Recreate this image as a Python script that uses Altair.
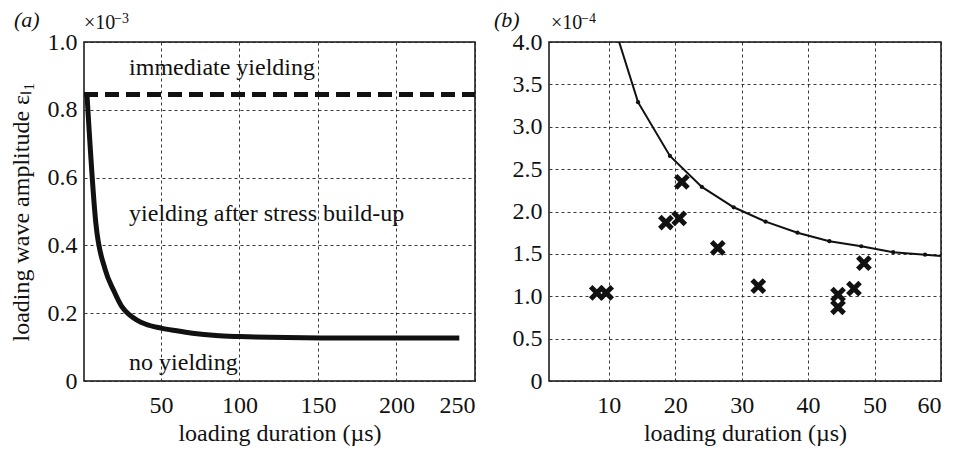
import altair as alt
import pandas as pd

# ---- panel (a) data ----
a_dur = [2.9, 8.6, 14.4, 20, 25, 30, 35, 40, 50, 60, 70, 85, 100, 130, 170, 240]
a_amp = [0.845, 0.463, 0.33, 0.266, 0.22, 0.195, 0.179, 0.168, 0.156, 0.148,
         0.141, 0.134, 0.131, 0.128, 0.127, 0.127]
a_limit_x = [1, 250]
a_limit_y = [0.845, 0.845]
a_regions = ["immediate yielding", "yielding after stress build-up", "no yielding"]
a_region_x = [29.7, 29.7, 29.7]
a_region_y = [0.923, 0.493, 0.053]

# ---- panel (b) data ----
b_dur = [9.6, 14.4, 19.2, 24.0, 28.8, 33.6, 38.4, 43.2, 48.0, 52.8, 57.6, 62.4]
b_amp = [4.49, 3.29, 2.655, 2.29, 2.05, 1.88, 1.75, 1.65, 1.59, 1.52, 1.49, 1.46]
c_dur = [8.2, 9.6, 18.6, 20.6, 21.0, 26.4, 32.5, 44.5, 44.5, 46.9, 48.4]
c_amp = [1.04, 1.04, 1.87, 1.92, 2.35, 1.57, 1.12, 1.02, 0.87, 1.09, 1.39]

FONT = "Liberation Serif"
FS = 24
W, H = 391, 339

a_curve = pd.DataFrame({"x": a_dur, "y": a_amp})
a_lim = pd.DataFrame({"x": a_limit_x, "y": a_limit_y})
a_txt = pd.DataFrame({"x": a_region_x, "y": a_region_y, "t": a_regions})
b_curve = pd.DataFrame({"x": b_dur, "y": b_amp})
b_cross = pd.DataFrame({"x": c_dur, "y": c_amp})

lab0 = "datum.value === 0 ? '0' : format(datum.value, '.1f')"

def xaxis(vals):
    return alt.Axis(values=vals, title="loading duration (µs)", ticks=False,
                    labelPadding=12, titlePadding=4, grid=True)

xa = alt.X("x:Q", scale=alt.Scale(domain=[1, 250], nice=False, zero=False),
           axis=xaxis([50, 100, 150, 200, 250]))
ya = alt.Y("y:Q", scale=alt.Scale(domain=[0, 1], nice=False),
           axis=alt.Axis(values=[0, 0.2, 0.4, 0.6, 0.8, 1.0], labelExpr=lab0,
                         title="loading wave amplitude εₗ₁", ticks=False,
                         labelPadding=7, titlePadding=14, grid=True))

a_line = alt.Chart(a_curve).mark_line(color="#111", strokeWidth=5,
                                      interpolate="monotone").encode(x=xa, y=ya)
a_dash = alt.Chart(a_lim).mark_line(color="#111", strokeWidth=5,
                                    strokeDash=[14, 7]).encode(x=xa, y=ya)
a_text = alt.Chart(a_txt).mark_text(align="left", baseline="middle", font=FONT,
                                    fontSize=FS, color="#111").encode(
    x=xa, y=ya, text="t:N")

def corner(label, sup, dx_label, dx10, dxsup):
    p1 = alt.Chart(pd.DataFrame({"t": [label]})).mark_text(
        align="left", baseline="alphabetic", font=FONT, fontSize=22,
        fontStyle="italic", color="#111").encode(
        x=alt.value(dx_label), y=alt.value(-15), text="t:N")
    p2 = alt.Chart(pd.DataFrame({"t": ["×10"]})).mark_text(
        align="left", baseline="alphabetic", font=FONT, fontSize=20, color="#111").encode(
        x=alt.value(dx10), y=alt.value(-13), text="t:N")
    p3 = alt.Chart(pd.DataFrame({"t": [sup]})).mark_text(
        align="left", baseline="alphabetic", font=FONT, fontSize=14, color="#111").encode(
        x=alt.value(dxsup), y=alt.value(-19), text="t:N")
    return p1 + p2 + p3

panel_a = (a_line + a_dash + a_text + corner("(a)", "−3", -70, 0, 30)).properties(
    width=W, height=H)

xb = alt.X("x:Q", scale=alt.Scale(domain=[1, 60], nice=False, zero=False),
           axis=xaxis([10, 20, 30, 40, 50, 60]))
yb = alt.Y("y:Q", scale=alt.Scale(domain=[0, 4], nice=False),
           axis=alt.Axis(values=[0, 0.5, 1, 1.5, 2, 2.5, 3, 3.5, 4], labelExpr=lab0,
                         title=None, ticks=False, labelPadding=7, grid=True))

b_line = alt.Chart(b_curve).mark_line(color="#111", strokeWidth=2, clip=True).encode(x=xb, y=yb)
b_pts = alt.Chart(b_curve).mark_point(filled=True, color="#111", size=18, opacity=1,
                                      clip=True).encode(x=xb, y=yb)
b_x = alt.Chart(b_cross).mark_point(shape="M-1,-1L1,1M1,-1L-1,1", filled=False,
                                    color="#111", strokeWidth=5, size=150,
                                    opacity=1).encode(x=xb, y=yb)

panel_b = (b_line + b_pts + b_x + corner("(b)", "−4", -55, 2, 32)).properties(
    width=392, height=H)

chart = alt.hconcat(panel_a, panel_b, spacing=74, bounds="flush").properties(
    padding={"left": 0, "top": 0, "right": 0, "bottom": 0}
).configure_view(stroke="#111", strokeWidth=1.5).configure_axis(
    labelFont=FONT, titleFont=FONT, labelFontSize=FS, titleFontSize=FS,
    labelColor="#111", titleColor="#111", titleFontWeight="normal",
    domain=False, gridColor="#222", gridDash=[3, 3], gridWidth=0.9, gridOpacity=1
)

chart.save("out.html", embed_options={"renderer": "svg", "actions": False})
